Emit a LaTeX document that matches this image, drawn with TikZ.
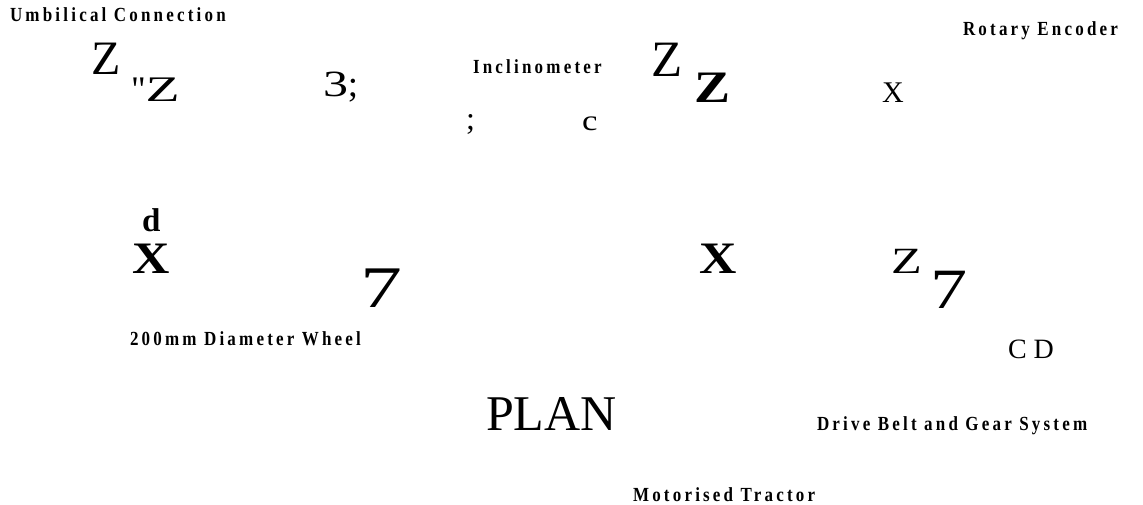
\documentclass[tikz,border=0pt]{standalone}
\usepackage{fontspec}
\setmainfont{Liberation Serif}
\newfontfamily\lblfont{Liberation Serif}[LetterSpace=16, FakeStretch=0.85]
\newfontfamily\glyphfont{Liberation Serif}[Ligatures=TeXOff]
\newcommand{\fsz}[1]{\fontsize{#1}{#1}\selectfont}
\newcommand{\wide}[2]{\scalebox{#1}[1]{#2}}
\tikzset{
  lbl/.style={anchor=base west, inner sep=0pt, outer sep=0pt, font=\lblfont\bfseries\fsz{20}},
  gl/.style={anchor=base west, inner sep=0pt, outer sep=0pt},
}
\begin{document}
\begin{tikzpicture}[x=1pt,y=-1pt]
\useasboundingbox (0,0) rectangle (1143,505);
% labels
\node[lbl] (umb) at (10,21.5) {Umbilical Connection};
\node[lbl] (rot) at (963,36) {Rotary Encoder};
\node[lbl] (inc) at (473,74) {Inclinometer};
\node[lbl] (whl) at (130,345) {200mm Diameter Wheel};
\node[lbl] (drv) at (817,430) {Drive Belt and Gear System};
\node[lbl] (trc) at (633,501) {Motorised Tractor};
% stray glyphs
\node[gl, font=\glyphfont\fsz{48}] (z1) at (91,75) {Z};
\node[gl, font=\glyphfont\fsz{36}] (z2) at (131,102) {"\wide{1.55}{Z}};
\node[gl, font=\glyphfont\fsz{37}] (t3) at (323,97) {\wide{1.35}{3};};
\node[gl, font=\glyphfont\fsz{32}] (sc) at (466,130) {;};
\node[gl, font=\glyphfont\fsz{29}] (cc) at (582,131) {\wide{1.2}{c}};
\node[gl, font=\glyphfont\fsz{51}] (z3) at (651,77) {Z};
\node[gl, font=\glyphfont\bfseries\fsz{45}] (z4) at (694,103) {\wide{1.2}{Z}};
\node[gl, font=\glyphfont\fsz{30}] (x1) at (882,103) {X};
\node[gl, font=\glyphfont\bfseries\fsz{33}] (dd) at (142,232) {d};
\node[gl, font=\glyphfont\bfseries\fsz{45}] (x2) at (132,273) {\wide{1.15}{X}};
\node[gl, font=\glyphfont\fsz{59}] (s1) at (360,307) {\wide{1.42}{7}};
\node[gl, font=\glyphfont\bfseries\fsz{45}] (x3) at (699,273) {\wide{1.15}{X}};
\node[gl, font=\glyphfont\fsz{37}] (z5) at (891,273) {\wide{1.36}{Z}};
\node[gl, font=\glyphfont\fsz{57}] (s2) at (930,308) {\wide{1.3}{7}};
\node[gl, font=\glyphfont\fsz{28}] (cd) at (1008,358) {C D};
\node[gl, font=\glyphfont\fsz{50}] (plan) at (486,430) {PLAN};
\end{tikzpicture}
\end{document}
